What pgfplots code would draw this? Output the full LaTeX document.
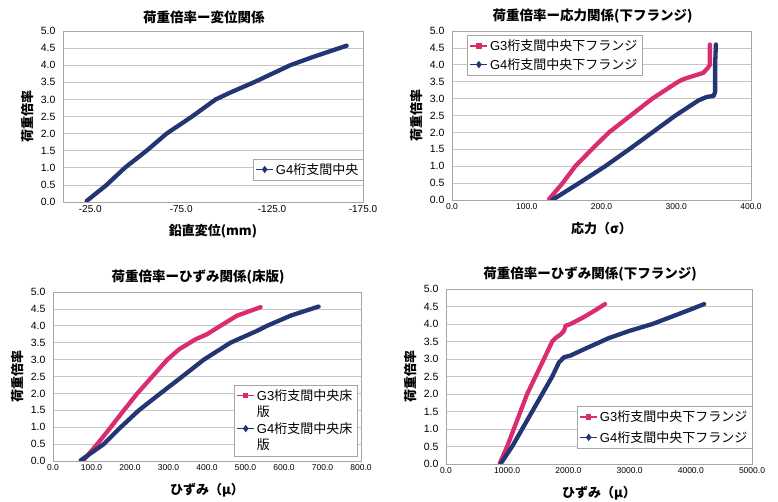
\documentclass[border=0pt]{standalone}
\usepackage{pgfplots}
\pgfplotsset{compat=1.18}
\usepackage{fontspec}
\setmainfont{Liberation Sans}
\newfontfamily\cjk{Noto Sans CJK JP}

\definecolor{navy}{HTML}{233673}
\definecolor{rose}{HTML}{DA2C70}

\pgfplotsset{
  panel/.style={
    scale only axis,
    ymin=0, ymax=5,
    ytick={0,0.5,1,1.5,2,2.5,3,3.5,4,4.5,5},
    ymajorgrids,
    grid style={gray!45, line width=0.6pt},
    axis line style={gray!70, line width=0.6pt},
    major tick length=0pt,
    /pgf/number format/assume math mode=true,
    /pgf/number format/fixed,
    /pgf/number format/fixed zerofill,
    /pgf/number format/precision=1,
    /pgf/number format/1000 sep={},
    xticklabel style={font=\fontsize{8.5}{10}\selectfont},
    yticklabel style={font=\fontsize{10.5}{12}\selectfont, xshift=-4pt},
    every axis title/.style={at={(0.5,1)}, anchor=south, yshift=4pt, xshift=-9pt,
      font=\fontsize{13.5}{15}\selectfont\cjk\bfseries},
    every axis y label/.style={at={(rel axis cs:0,0.5)}, xshift=-35pt, rotate=90, anchor=center,
      font=\fontsize{13}{15}\selectfont\cjk\bfseries},
    every axis x label/.style={at={(rel axis cs:0.5,0)}, yshift=-29pt, anchor=center,
      font=\fontsize{13}{15}\selectfont\cjk\bfseries},
    ylabel={荷重倍率},
    legend style={draw=gray!70, fill=white, font=\fontsize{13}{15}\selectfont,
      inner sep=2.5pt, row sep=2pt},
    legend cell align=left,
  },
  curve/.style={line width=4.3pt, line join=round, line cap=round},
  g3/.style={rose, line width=1.4pt, mark=square*, mark size=2pt},
  g4/.style={navy, line width=1.4pt, mark=diamond*, mark size=2.6pt},
}

\begin{document}
\begin{tikzpicture}
\path[use as bounding box] (0,0) rectangle (778pt,502pt);

% top left: displacement
\begin{axis}[panel, at={(63pt,300pt)}, anchor=south west, width=300pt, height=171pt,
    x dir=reverse, xmin=-175, xmax=-10, xtick={-25,-75,-125,-175},
    xticklabel style={font=\fontsize{10}{11}\selectfont},
    title={荷重倍率ー変位関係}, xlabel={鉛直変位(mm)},
    legend style={at={(rel axis cs:1,0.19)}, anchor=east}]
\addplot[navy, curve, forget plot] coordinates {
  (-23,0.03) (-34,0.5) (-44,1.0) (-56,1.5) (-67,2.0) (-81,2.5) (-94,3.0)
  (-102,3.2) (-115,3.5) (-135,4.0) (-148,4.25) (-166,4.57)};
\addlegendimage{g4}
\addlegendentry{G4{\cjk 桁支間中央}}
\end{axis}

% top right: stress
\begin{axis}[panel, at={(452pt,302pt)}, anchor=south west, width=299pt, height=169pt,
    xmin=0, xmax=400, xtick={0,100,200,300,400},
    title={荷重倍率ー応力関係(下フランジ)}, xlabel={応力（σ）},
    legend style={at={(rel axis cs:0.05,0.975)}, anchor=north west}]
\addplot[rose, curve, forget plot] coordinates {
  (130,0.03) (148,0.5) (165,1.0) (187,1.5) (210,2.0) (239,2.5) (268,3.0)
  (302,3.49) (310,3.58) (336,3.76) (342,3.9) (345,4.0) (345,4.6)};
\addplot[navy, curve, forget plot] coordinates {
  (134,0.0) (170,0.5) (205,1.0) (237,1.5) (268,2.0) (299,2.5) (330,2.95)
  (341,3.05) (350,3.08) (352,3.2) (352,4.0) (353,4.6)};
\addlegendimage{g3}
\addlegendentry{G3{\cjk 桁支間中央下フランジ}}
\addlegendimage{g4}
\addlegendentry{G4{\cjk 桁支間中央下フランジ}}
\end{axis}

% bottom left: strain (deck)
\begin{axis}[panel, at={(53pt,41pt)}, anchor=south west, width=308pt, height=169pt,
    xmin=0, xmax=800, xtick={0,100,200,300,400,500,600,700,800},
    title={荷重倍率ーひずみ関係(床版)}, xlabel={ひずみ（μ）},
    legend style={at={(rel axis cs:0.987,0.03)}, anchor=south east, row sep=0pt}]
\addplot[rose, curve, forget plot] coordinates {
  (79,0.02) (115,0.5) (150,1.0) (184,1.5) (219,2.0) (258,2.5) (297,3.0)
  (327,3.3) (370,3.6) (400,3.75) (435,4.0) (478,4.3) (539,4.55)};
\addplot[navy, curve, forget plot] coordinates {
  (72,0.02) (132,0.5) (176,1.0) (223,1.5) (279,2.0) (336,2.5) (392,3.0)
  (461,3.5) (530,3.85) (556,4.0) (617,4.3) (690,4.57)};
\addlegendimage{g3}
\addlegendentry{G3{\cjk 桁支間中央床}}
\addlegendimage{empty legend}
\addlegendentry{{\cjk 版}}
\addlegendimage{g4}
\addlegendentry{G4{\cjk 桁支間中央床}}
\addlegendimage{empty legend}
\addlegendentry{{\cjk 版}}
\end{axis}

% bottom right: strain (lower flange)
\begin{axis}[panel, at={(446pt,38pt)}, anchor=south west, width=306pt, height=175pt,
    xmin=0, xmax=5000, xtick={0,1000,2000,3000,4000,5000},
    title={荷重倍率ーひずみ関係(下フランジ)}, xlabel={ひずみ（μ）},
    legend style={at={(rel axis cs:1,0.09)}, anchor=south east, row sep=4pt}]
\addplot[rose, curve, forget plot] coordinates {
  (879,0.02) (999,0.5) (1108,1.0) (1217,1.5) (1326,2.0) (1463,2.5) (1600,3.0)
  (1736,3.5) (1790,3.6) (1872,3.7) (1927,3.8) (1954,3.95) (2036,4.0)
  (2254,4.2) (2445,4.4) (2598,4.57)};
\addplot[navy, curve, forget plot] coordinates {
  (890,0.0) (1081,0.5) (1245,1.0) (1408,1.5) (1572,2.0) (1736,2.5) (1845,2.9)
  (1927,3.05) (2036,3.1) (2282,3.3) (2664,3.6) (2991,3.8) (3373,4.0)
  (3674,4.2) (3974,4.4) (4219,4.57)};
\addlegendimage{g3}
\addlegendentry{G3{\cjk 桁支間中央下フランジ}}
\addlegendimage{g4}
\addlegendentry{G4{\cjk 桁支間中央下フランジ}}
\end{axis}
\end{tikzpicture}
\end{document}
